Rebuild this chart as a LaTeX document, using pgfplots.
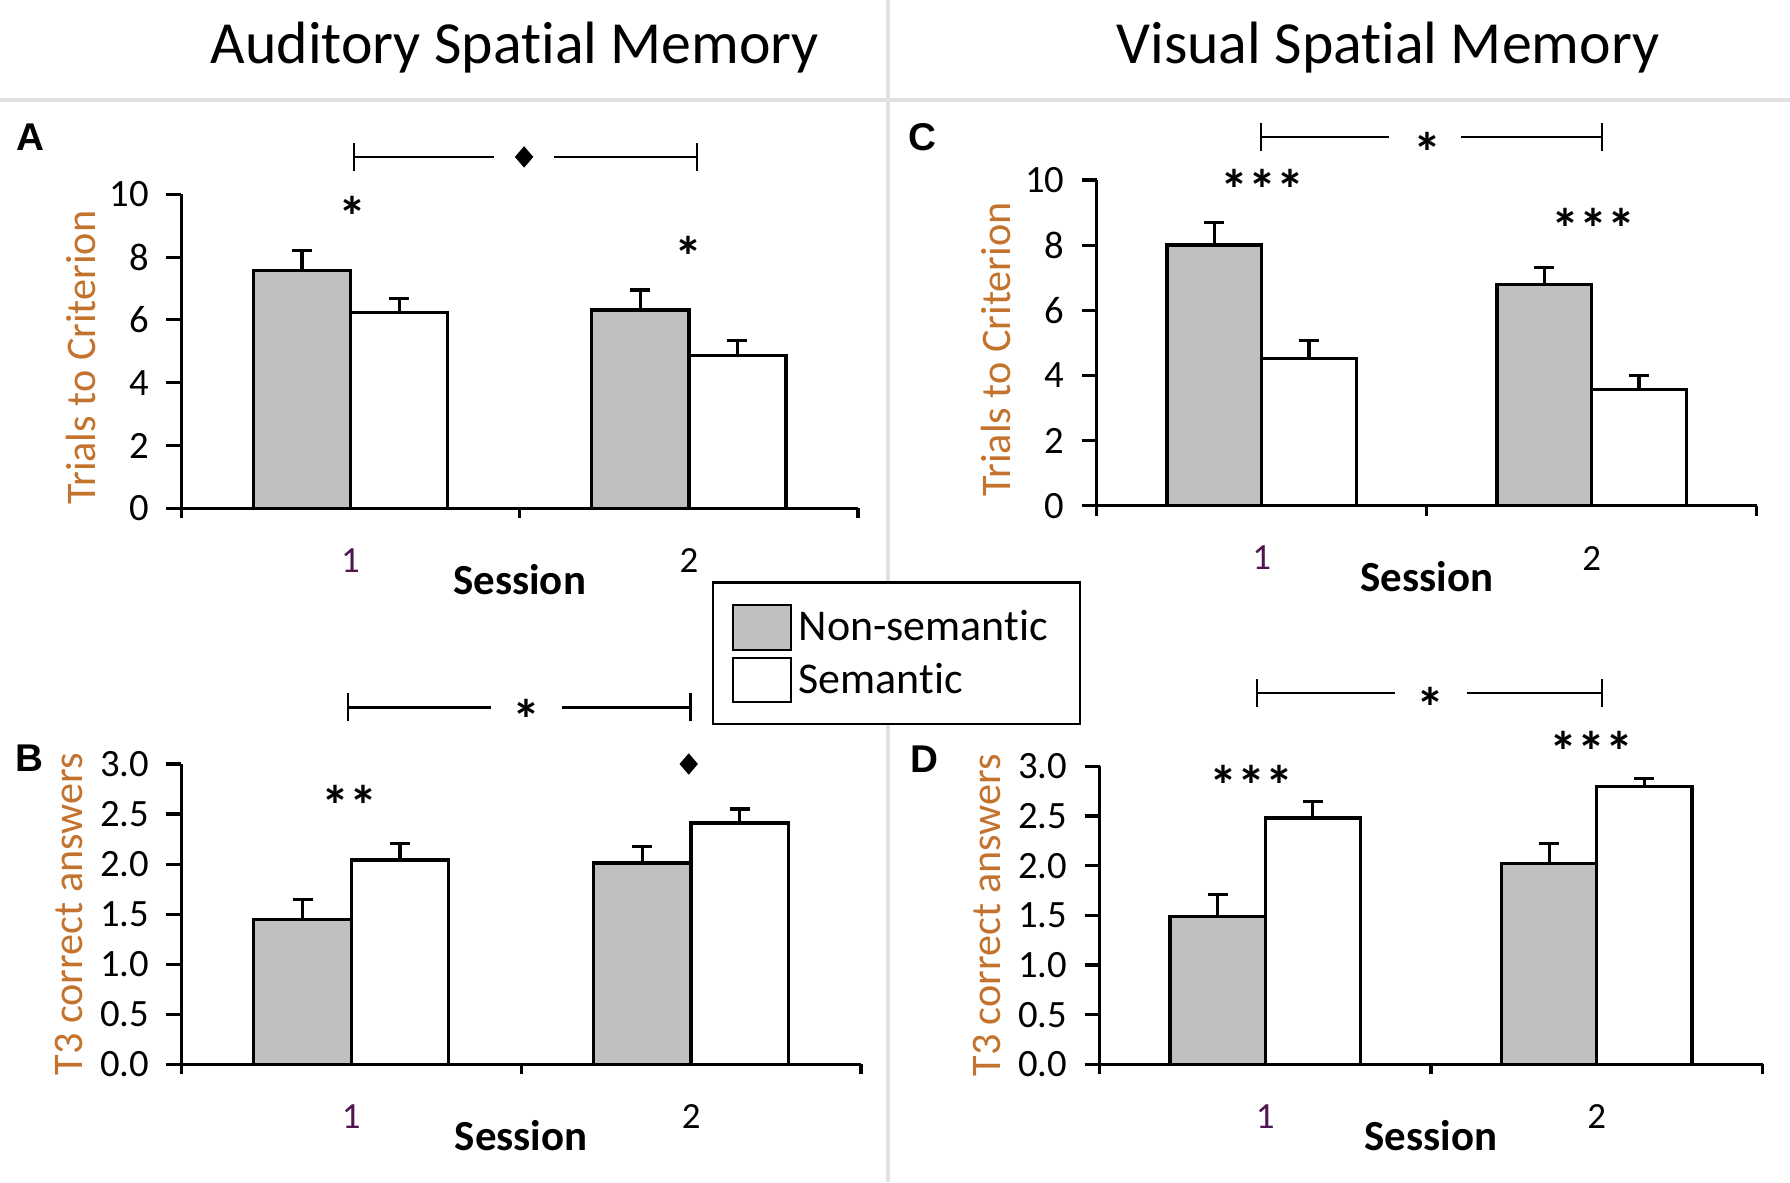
\documentclass[border=0pt]{standalone}
\usepackage{pgfplots}
\pgfplotsset{compat=1.18}
\usepackage{fontspec}
\setmainfont{Carlito}[Ligatures=NoCommon]
\newfontfamily\arialfont{Liberation Sans}
\usetikzlibrary{shapes.geometric}
\definecolor{barGrey}{RGB}{192,192,192}
\definecolor{ylabOrange}{RGB}{195,115,45}
\definecolor{sepGrey}{RGB}{226,226,226}
\definecolor{tickPurple}{RGB}{80,20,80}

\tikzset{sigdiamond/.style={diamond, fill=black, inner sep=0, minimum width=1.9mm, minimum height=2.2mm}}

\pgfplotsset{
  panel/.style={
    scale only axis, clip=false,
    xmin=0.5, xmax=2.5, ymin=0,
    axis x line=bottom, axis y line=left,
    axis line style={-, line width=0.9pt},
    tick align=outside,
    xtick={1,2}, xticklabels={{\color{tickPurple}1},2},
    major x tick style={draw=none},
    minor xtick={0.5,1.5,2.5},
    minor x tick style={line width=0.9pt, black},
    minor tick length=1mm,
    major tick length=1.5mm,
    major y tick style={line width=0.9pt, black},
    /pgf/number format/assume math mode=true,
    yticklabel style={font=\fontsize{11}{11}\selectfont, xshift=-0.5mm},
    xticklabel style={font=\fontsize{10.5}{10.5}\selectfont, yshift=-1.3mm},
    xlabel={\bfseries Session},
    every axis x label/.style={at={(axis description cs:0.5,0)}, anchor=center, yshift=-7.1mm, font=\fontsize{12.2}{12.2}\selectfont},
  },
  ylab/.style 2 args={every axis y label/.style={at={(axis description cs:#1,#2)}, rotate=90, anchor=center, font=\fontsize{12}{12}\selectfont, text=ylabOrange}},
  ns/.style={ybar, bar width=0.287, bar shift=0pt, fill=barGrey, draw=black, line width=0.95pt,
    error bars/.cd, y dir=plus, y explicit,
    error bar style={line width=0.9pt, black},
    error mark options={rotate=90, line width=0.9pt, mark size=1mm, black}},
  se/.style={ybar, bar width=0.287, bar shift=0pt, fill=white, draw=black, line width=0.95pt,
    error bars/.cd, y dir=plus, y explicit,
    error bar style={line width=0.9pt, black},
    error mark options={rotate=90, line width=0.9pt, mark size=1mm, black}},
  trials/.style={ymax=10, ytick={0,2,...,10}, ylabel={Trials to Criterion}},
  tthree/.style={ymax=3, ytick={0,0.5,...,3},
    yticklabel style={/pgf/number format/.cd, fixed, fixed zerofill, precision=1},
    ylabel={T3 correct answers}},
}
\newcommand{\starfont}{\bfseries\fontsize{16}{16}\selectfont}
\newcommand{\sigbracket}[5]{% y, x1, x2, gapL, gapR
  \draw[line width=0.65pt] (axis cs:#2,#1) -- (axis cs:#4,#1);
  \draw[line width=0.65pt] (axis cs:#5,#1) -- (axis cs:#3,#1);
  \draw[line width=0.65pt] ([yshift=-1.4mm]axis cs:#2,#1) -- ([yshift=1.4mm]axis cs:#2,#1);
  \draw[line width=0.65pt] ([yshift=-1.4mm]axis cs:#3,#1) -- ([yshift=1.4mm]axis cs:#3,#1);
}

\begin{document}
\begin{tikzpicture}
\useasboundingbox (0,0) rectangle (179mm,118.2mm);
\fill[white] (0,0) rectangle (179mm,118.2mm);
% separators
\draw[sepGrey, line width=0.35mm] (0,108.2mm) -- (179mm,108.2mm);
\draw[sepGrey, line width=0.35mm] (88.8mm,0) -- (88.8mm,118.2mm);
% titles
\node[anchor=base, font=\fontsize{17}{17}\selectfont] at (51.5mm,111.85mm) {Auditory Spatial Memory};
\node[anchor=base, font=\fontsize{17}{17}\selectfont] at (138.8mm,111.85mm) {Visual Spatial Memory};
% panel letters
\node[font=\arialfont\bfseries\fontsize{11}{11}\selectfont] at (3.0mm,104.5mm) {A};
\node[font=\arialfont\bfseries\fontsize{11}{11}\selectfont] at (92.2mm,104.5mm) {C};
\node[font=\arialfont\bfseries\fontsize{11}{11}\selectfont] at (2.9mm,42.35mm) {B};
\node[font=\arialfont\bfseries\fontsize{11}{11}\selectfont] at (92.4mm,42.3mm) {D};

% ---- Panel A
\begin{axis}[panel, trials, at={(18.14mm,67.37mm)}, anchor=south west, width=67.66mm, height=31.4mm,
  ylab={-0.149}{0.48}]
\addplot[ns] coordinates {(0.8565,7.57) +- (0,0.63) (1.8565,6.32) +- (0,0.63)};
\addplot[se] coordinates {(1.1435,6.24) +- (0,0.44) (2.1435,4.86) +- (0,0.48)};
\sigbracket{11.19}{1.011}{2.024}{1.425}{1.602}
\node[sigdiamond] at (axis cs:1.513,11.19) {};
\node[anchor=north, inner sep=0, font=\starfont] at (axis cs:1.005,9.955) {*};
\node[anchor=north, inner sep=0, font=\starfont] at (axis cs:1.999,8.70) {*};
\end{axis}

% ---- Panel C
\begin{axis}[panel, trials, at={(109.67mm,67.63mm)}, anchor=south west, width=66.0mm, height=32.57mm,
  ylab={-0.153}{0.48}]
\addplot[ns] coordinates {(0.8565,8.0) +- (0,0.69) (1.8565,6.80) +- (0,0.52)};
\addplot[se] coordinates {(1.1435,4.52) +- (0,0.55) (2.1435,3.56) +- (0,0.44)};
\sigbracket{11.31}{0.998}{2.031}{1.387}{1.605}
\node[anchor=north, inner sep=0, font=\starfont] at (axis cs:1.501,11.48) {*};
\node[anchor=north, inner sep=0, font=\starfont] at (axis cs:1.001,10.36) {***};
\node[anchor=north, inner sep=0, font=\starfont] at (axis cs:2.005,9.16) {***};
\end{axis}

% ---- Panel B
\begin{axis}[panel, tthree, at={(18.14mm,11.77mm)}, anchor=south west, width=67.96mm, height=30.03mm,
  ylab={-0.165}{0.5}]
\addplot[ns] coordinates {(0.8565,1.45) +- (0,0.20) (1.8565,2.01) +- (0,0.17)};
\addplot[se] coordinates {(1.1435,2.04) +- (0,0.17) (2.1435,2.41) +- (0,0.14)};
\sigbracket{3.566}{0.991}{1.998}{1.41}{1.621}
\node[anchor=north, inner sep=0, font=\starfont] at (axis cs:1.516,3.65) {*};
\node[anchor=north, inner sep=0, font=\starfont] at (axis cs:0.996,2.79) {**};
\node[sigdiamond] at (axis cs:1.993,3.0) {};
\end{axis}

% ---- Panel D
\begin{axis}[panel, tthree, at={(109.95mm,11.77mm)}, anchor=south west, width=66.3mm, height=29.8mm,
  ylab={-0.169}{0.5}]
\addplot[ns] coordinates {(0.8565,1.485) +- (0,0.225) (1.8565,2.025) +- (0,0.195)};
\addplot[se] coordinates {(1.1435,2.48) +- (0,0.17) (2.1435,2.796) +- (0,0.085)};
\sigbracket{3.738}{0.976}{2.015}{1.392}{1.609}
\node[anchor=north, inner sep=0, font=\starfont] at (axis cs:1.499,3.80) {*};
\node[anchor=north, inner sep=0, font=\starfont] at (axis cs:0.959,3.02) {***};
\node[anchor=north, inner sep=0, font=\starfont] at (axis cs:1.984,3.36) {***};
\end{axis}

% legend
\draw[black, line width=0.75pt, fill=white] (71.3mm,45.8mm) rectangle (108.0mm,59.93mm);
\draw[black, line width=0.75pt, fill=barGrey] (73.3mm,53.2mm) rectangle (79.1mm,57.7mm);
\draw[black, line width=0.75pt, fill=white] (73.3mm,48.0mm) rectangle (79.1mm,52.4mm);
\node[anchor=base west, inner sep=0, font=\fontsize{12.5}{12.5}\selectfont] at (79.8mm,54.2mm) {Non-semantic};
\node[anchor=base west, inner sep=0, font=\fontsize{12.5}{12.5}\selectfont] at (79.8mm,48.9mm) {Semantic};
\end{tikzpicture}
\end{document}
